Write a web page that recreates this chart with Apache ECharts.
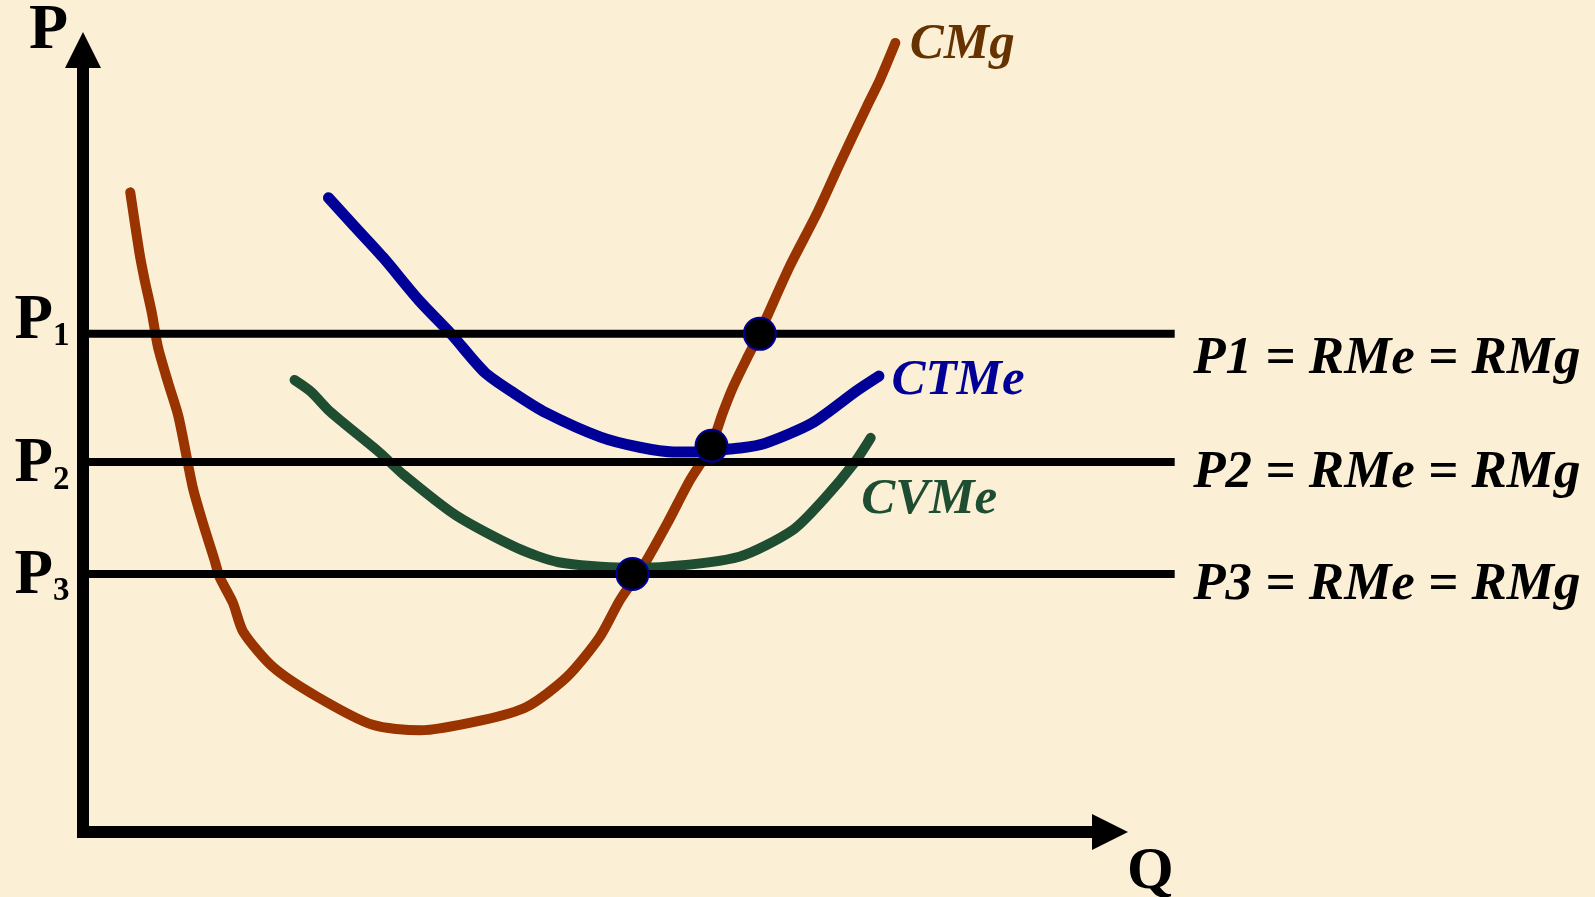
<!DOCTYPE html>
<html>
<head>
<meta charset="utf-8">
<script src="https://cdn.jsdelivr.net/npm/echarts@6/dist/echarts.min.js"></script>
<style>
html,body{margin:0;padding:0;background:#FBF0D6;}
#c{width:1595px;height:897px;}
</style>
</head>
<body>
<div id="c"></div>
<script>
// ---- Data (Q, P) in chart units ----
const cmg = [[4.6,81.8],[5.5,74.0],[6.0,70.6],[6.7,66.4],[7.3,62.0],[8.3,57.4],[9.3,53.1],[10.7,44.0],[11.7,39.4],[12.8,34.8],[13.3,32.6],[14.6,29.3],[15.6,25.6],[18.5,21.1],[22.8,17.3],[28.2,13.7],[32.8,13.0],[38.9,14.3],[43.2,16.0],[47.1,19.8],[50.3,24.9],[52.3,29.7],[54.5,33.9],[56.9,39.5],[59.1,45.0],[61.1,49.2],[62.3,53.6],[63.3,56.9],[64.7,60.7],[65.9,63.8],[66.6,65.9],[68.8,72.3],[71.5,79.2],[73.7,85.5],[76.3,92.7],[77.6,96.2],[79.1,100.9]];
const ctme = [[23.9,81.1],[26.4,77.5],[29.2,73.5],[32.7,68.0],[35.9,63.6],[39.1,58.8],[42.0,56.1],[45.1,53.6],[50.4,50.5],[54.2,49.2],[57.5,48.6],[59.6,48.6],[61.2,48.8],[64.0,49.1],[66.4,49.7],[71.0,52.3],[75.3,56.4],[77.5,58.3]];
const cvme = [[20.6,57.8],[22.2,56.3],[24.1,53.7],[28.9,48.5],[31.2,45.7],[36.3,40.5],[42.3,36.3],[46.3,34.5],[52.7,33.8],[56.5,33.9],[63.9,35.2],[69.1,38.6],[72.1,42.5],[75.1,47.2],[76.7,50.4]];
const curveNames = ['CMg', 'CTMe', 'CVMe'];
const priceLevels = [63.7, 47.3, 33.0];
const priceSubscripts = ['1', '2', '3'];
const priceTexts = ['P1 = RMe = RMg', 'P2 = RMe = RMg', 'P3 = RMe = RMg'];
const priceLineEnd = 106.3;
const equilibria = [[65.9, 63.7], [61.2, 49.4], [53.5, 33.0]];
const axisNames = ['Q', 'P'];
const axisMax = 100;      // visible arrow axes end here
const plotMaxQ = 110;     // drawing area extends past the arrows
const plotMaxP = 106;

// ---- Layout ----
const W = 1595, H = 897;
const gLeft = 83, gRight = 485, gTop = 50, gBottom = 65;
const pxPerQ = (W - gLeft - gRight) / axisMax;
const pxPerP = (H - gTop - gBottom) / axisMax;

// ---- Styles ----
const serif = '"Liberation Serif", "Times New Roman", serif';
const leftOffsets = [[0, -12], [0, 3], [0, 3]];
const rightOffsets = [[0, 25], [0, 11], [0, 11]];
const curveData = [cmg, ctme, cvme];
const curveStyles = [
  {line: '#993300', text: '#663300', width: 10, distance: 14, offset: [0, 2]},
  {line: '#000099', text: '#000099', width: 11, distance: 12, offset: [0, 5]},
  {line: '#1E4D32', text: '#1E4D32', width: 10, distance: 0, offset: [-10, 62]}
];

const curveSeries = curveData.map((d, i) => {
  const st = curveStyles[i];
  const data = d.map((pt, j) => {
    if (j === d.length - 1) {
      return {value: pt, label: {show: true, position: 'right', distance: st.distance, offset: st.offset,
        formatter: curveNames[i], fontFamily: serif, fontWeight: 'bold', fontStyle: 'italic', fontSize: 51, color: st.text}};
    }
    return {value: pt};
  });
  return {
    type: 'line', name: curveNames[i], data: data, clip: false, silent: true, z: 2,
    xAxisIndex: 0, yAxisIndex: 0,
    symbol: 'circle', symbolSize: 1, showSymbol: true,
    itemStyle: {color: 'rgba(0,0,0,0)'},
    smooth: 0.25,
    lineStyle: {color: st.line, width: st.width, cap: 'round', join: 'round'}
  };
});

const priceSeries = priceLevels.map((p, i) => ({
  type: 'line', name: 'P' + priceSubscripts[i], clip: false, silent: true, z: 3,
  xAxisIndex: 0, yAxisIndex: 0,
  symbol: 'circle', symbolSize: 1, itemStyle: {color: 'rgba(0,0,0,0)'},
  lineStyle: {color: '#000', width: 8},
  data: [
    {value: [0, p], label: {show: true, position: 'left', distance: 13, offset: leftOffsets[i],
      formatter: '{p|P}{s|' + priceSubscripts[i] + '}',
      rich: {
        p: {fontFamily: serif, fontWeight: 'bold', fontSize: 63, lineHeight: 63, color: '#000', verticalAlign: 'bottom'},
        s: {fontFamily: serif, fontWeight: 'bold', fontSize: 33, lineHeight: 43, color: '#000', verticalAlign: 'bottom'}
      }}},
    {value: [priceLineEnd, p], label: {show: true, position: 'right', distance: 18, offset: rightOffsets[i],
      formatter: priceTexts[i], fontFamily: serif, fontWeight: 'bold', fontStyle: 'italic', fontSize: 53, color: '#000'}}
  ]
}));

const pointSeries = {
  type: 'scatter', name: 'equilibria', data: equilibria, silent: true, z: 5, clip: false,
  xAxisIndex: 0, yAxisIndex: 0,
  symbol: 'circle', symbolSize: 32,
  itemStyle: {color: '#000', borderColor: '#000099', borderWidth: 2, opacity: 1}
};

const hiddenAxis = {show: false, axisLine: {show: false}, axisTick: {show: false}, axisLabel: {show: false}, splitLine: {show: false}};

const chart = echarts.init(document.getElementById('c'), null, {renderer: 'canvas'});
chart.setOption({
  backgroundColor: '#FBF0D6',
  animation: false,
  tooltip: {show: false},
  grid: [
    // drawing grid (same scale as the visible axes, but larger)
    {left: gLeft, bottom: gBottom, width: pxPerQ * plotMaxQ, height: pxPerP * plotMaxP, containLabel: false, outerBoundsMode: 'none'},
    // visible arrow axes
    {left: gLeft, right: gRight, top: gTop, bottom: gBottom, containLabel: false, outerBoundsMode: 'none'}
  ],
  xAxis: [
    Object.assign({type: 'value', gridIndex: 0, min: 0, max: plotMaxQ}, hiddenAxis),
    {
      type: 'value', gridIndex: 1, min: 0, max: axisMax,
      name: axisNames[0], nameLocation: 'end', nameGap: 17,
      nameTextStyle: {fontFamily: serif, fontWeight: 'bold', fontSize: 60, color: '#000', verticalAlign: 'top', padding: [10, 0, 0, 0]},
      axisLine: {show: true, onZero: false, symbol: ['none', 'triangle'], symbolSize: [36, 36],
        lineStyle: {color: '#000', width: 12, cap: 'square'}},
      axisTick: {show: false}, axisLabel: {show: false}, splitLine: {show: false}
    }
  ],
  yAxis: [
    Object.assign({type: 'value', gridIndex: 0, min: 0, max: plotMaxP}, hiddenAxis),
    {
      type: 'value', gridIndex: 1, min: 0, max: axisMax,
      name: axisNames[1], nameLocation: 'end', nameGap: 19,
      nameTextStyle: {fontFamily: serif, fontWeight: 'bold', fontSize: 64, color: '#000', align: 'right', verticalAlign: 'middle', padding: [0, 15, 0, 0]},
      axisLine: {show: true, onZero: false, symbol: ['none', 'triangle'], symbolSize: [36, 36],
        lineStyle: {color: '#000', width: 12, cap: 'square'}},
      axisTick: {show: false}, axisLabel: {show: false}, splitLine: {show: false}
    }
  ],
  series: curveSeries.concat(priceSeries, [pointSeries])
});
</script>
</body>
</html>
